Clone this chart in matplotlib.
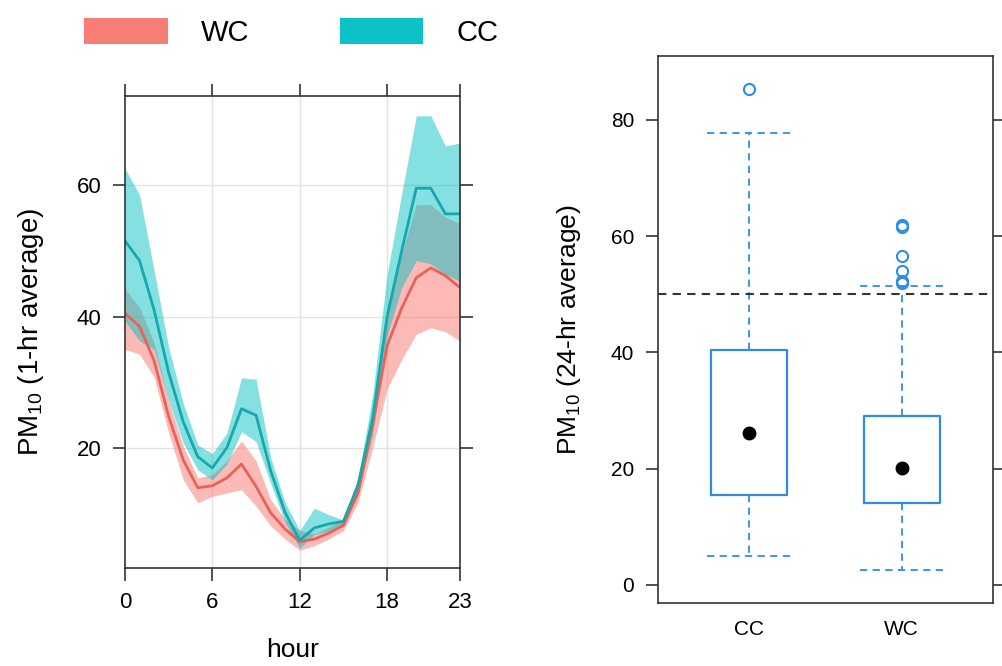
import numpy as np
import matplotlib
matplotlib.use("Agg")
import matplotlib.pyplot as plt
from matplotlib.patches import Patch

plt.rcParams['font.family'] = ['Liberation Sans', 'DejaVu Sans']
plt.rcParams['mathtext.default'] = 'regular'

# diurnal profile (hourly means with confidence band)
hours = list(range(24))
cc_mean = [51.5, 48.5, 41.0, 31.5, 24.0, 18.7, 17.0, 20.1, 26.0, 25.0, 16.6, 10.2,
           6.0, 7.9, 8.5, 8.9, 14.4, 24.5, 40.0, 50.0, 59.5, 59.5, 55.6, 55.6]
cc_upper = [62.5, 58.5, 47.0, 35.3, 26.8, 20.5, 19.2, 22.3, 30.7, 30.5, 18.6, 11.7,
            7.5, 10.9, 9.9, 9.1, 15.5, 28.0, 46.4, 58.7, 70.5, 70.5, 65.9, 66.4]
cc_lower = [39.3, 36.3, 35.0, 27.3, 20.8, 16.7, 15.2, 17.6, 22.5, 21.0, 14.7, 8.7,
            4.8, 6.9, 7.4, 8.1, 13.5, 22.0, 37.2, 44.4, 48.5, 48.0, 46.4, 45.4]
wc_mean = [40.5, 38.5, 33.3, 24.8, 18.2, 14.0, 14.3, 15.5, 17.6, 14.2, 10.2, 7.7,
           5.8, 6.2, 7.1, 8.3, 13.2, 23.5, 35.6, 41.3, 45.9, 47.4, 46.2, 44.4]
wc_upper = [44.2, 41.4, 36.0, 27.3, 20.3, 15.5, 16.0, 18.1, 21.1, 18.1, 12.2, 9.2,
            7.5, 7.0, 8.0, 9.3, 14.3, 26.0, 41.3, 49.5, 57.0, 57.0, 55.1, 54.1]
wc_lower = [35.0, 34.3, 30.8, 22.3, 15.2, 11.7, 12.7, 13.2, 13.7, 11.2, 8.2, 6.2,
            4.5, 5.2, 6.2, 7.5, 11.8, 20.0, 29.0, 33.5, 37.3, 38.3, 37.7, 36.3]

# daily averages summary per site
sites = ['CC', 'WC']
box_q1 = [15.4, 14.1]
box_med = [26.2, 20.2]
box_q3 = [40.4, 29.1]
whisk_lo = [5.0, 2.5]
whisk_hi = [77.8, 51.4]
outliers = [[85.3], [52.0, 52.3, 54.0, 56.6, 61.6, 62.0]]
limit_24h = 50

wc_col = '#F8766D'
cc_col = '#00BFC4'
wc_line = '#E8625A'
cc_line = '#16A9AB'
box_col = '#2F8CE6'
frame_col = '#333333'

fig = plt.figure(figsize=(10.03, 6.66), dpi=100)

# ---- hourly panel ----
ax1 = fig.add_axes([0.1246, 0.1471, 0.334, 0.7087])
ax1.fill_between(hours, wc_lower, wc_upper, color=wc_col, alpha=0.5, lw=0)
ax1.plot(hours, wc_mean, color=wc_line, lw=2)
ax1.fill_between(hours, cc_lower, cc_upper, color=cc_col, alpha=0.48, lw=0)
ax1.plot(hours, cc_mean, color=cc_line, lw=2)

ax1.set_xlim(0, 23)
ax1.set_ylim(1.8, 73.5)
ax1.set_xticks([0, 6, 12, 18, 23])
ax1.set_yticks([20, 40, 60])
for v in [6, 12, 18]:
    ax1.axvline(v, color='#e3e3e3', lw=1, zorder=0)
for v in [20, 40, 60]:
    ax1.axhline(v, color='#e3e3e3', lw=1, zorder=0)
ax1.tick_params(axis='both', direction='out', length=9, width=1.2, color=frame_col,
                labelsize=16, pad=8, top=True, right=True,
                labeltop=False, labelright=False)
ax1.set_xlabel('hour', fontsize=19, labelpad=18)
ax1.set_ylabel(r'PM$_{10}$ (1-hr average)', fontsize=20, labelpad=22)

# ---- daily box plot panel ----
ax2 = fig.add_axes([0.656, 0.0946, 0.334, 0.8213])
stats = []
for i, name in enumerate(sites):
    stats.append(dict(label=name, q1=box_q1[i], med=box_med[i], q3=box_q3[i],
                      whislo=whisk_lo[i], whishi=whisk_hi[i], fliers=outliers[i]))
ax2.bxp(stats, positions=[1, 2], widths=0.5, capwidths=0.55, showfliers=True,
        boxprops=dict(color=box_col, lw=1.6),
        whiskerprops=dict(color=box_col, lw=1.3, ls=(0, (4, 3))),
        capprops=dict(color=box_col, lw=1.3, ls=(0, (4, 3))),
        medianprops=dict(lw=0),
        flierprops=dict(marker='o', mfc='none', mec=box_col, mew=1.5, ms=8))
ax2.plot([1, 2], box_med, 'o', color='black', ms=9, zorder=5)
ax2.axhline(limit_24h, color=frame_col, lw=1.5, ls=(0, (4, 3)))

ax2.set_xlim(0.4, 2.6)
ax2.set_ylim(-3.1, 91)
ax2.set_yticks([0, 20, 40, 60, 80])
ax2.set_xticks([1, 2])
ax2.set_xticklabels(sites)
ax2.tick_params(axis='y', direction='out', length=9, width=1.2, color=frame_col,
                labelsize=15, pad=8, right=True, labelright=False)
ax2.tick_params(axis='x', length=0, labelsize=15, pad=12)
ax2.set_ylabel(r'PM$_{10}$ (24-hr average)', fontsize=19, labelpad=20)

for ax in (ax1, ax2):
    for sp in ax.spines.values():
        sp.set_color(frame_col)
        sp.set_linewidth(1.2)

# group key above the hourly panel
handles = [Patch(facecolor=wc_col, edgecolor='none', alpha=0.95),
           Patch(facecolor=cc_col, edgecolor='none', alpha=0.95)]
fig.legend(handles, ['WC', 'CC'], loc='upper left', bbox_to_anchor=(0.058, 1.012),
           ncol=2, frameon=False, fontsize=21, handlelength=2.85, handleheight=1.0,
           handletextpad=1.15, columnspacing=3.1)

fig.savefig('out.png', dpi=100)
